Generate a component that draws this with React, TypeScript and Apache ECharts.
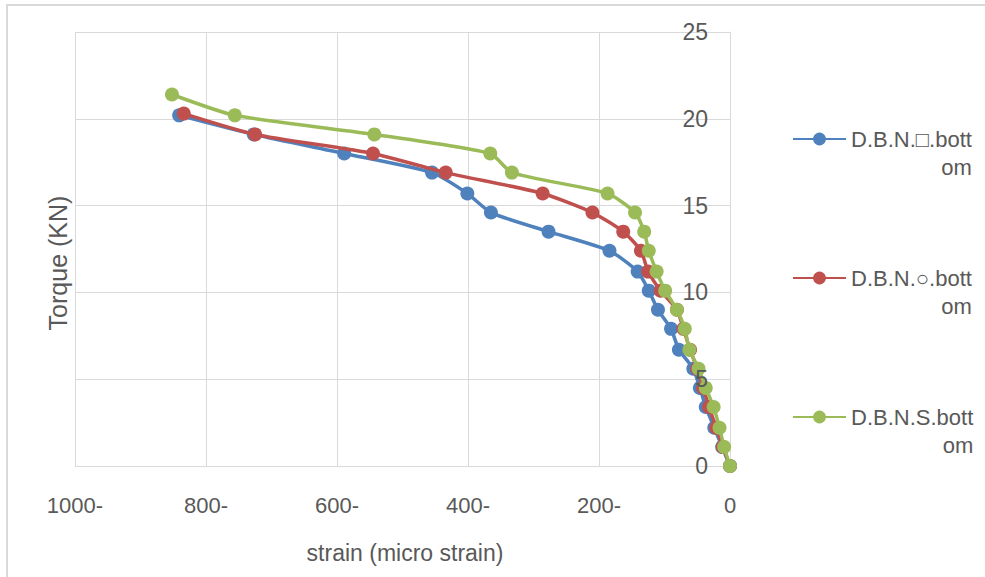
import React, { useEffect, useRef } from 'react';
import * as echarts from 'echarts';

const seriesNames = ['D.B.N.□.bottom', 'D.B.N.○.bottom', 'D.B.N.S.bottom'];
const seriesColors = ['#4f81bd', '#c0504d', '#9bbb59'];

const torqueBlue = [0, 1.1, 2.2, 3.4, 4.5, 5.6, 6.7, 7.9, 9.0, 10.1, 11.2, 12.4, 13.5, 14.6, 15.7, 16.9, 18.0, 19.1, 20.2];
const strainBlue = [0, 12, 24, 37, 46, 56, 78, 90, 110, 124, 141, 184, 277, 365, 401, 455, 589, 727, 841];

const torqueRed = [0, 1.1, 2.2, 3.4, 4.5, 5.6, 6.7, 7.9, 9.0, 10.1, 11.2, 12.4, 13.5, 14.6, 15.7, 16.9, 18.0, 19.1, 20.3];
const strainRed = [0, 11, 21, 32, 41, 50, 61, 71, 81, 106, 125, 136, 163, 210, 286, 434, 545, 725, 834];

const torqueGreen = [0, 1.1, 2.2, 3.4, 4.5, 5.6, 6.7, 7.9, 9.0, 10.1, 11.2, 12.4, 13.5, 14.6, 15.7, 16.9, 18.0, 19.1, 20.2, 21.4];
const strainGreen = [0, 9, 16, 25, 37, 48, 62, 69, 81, 99, 112, 124, 131, 145, 187, 333, 366, 543, 756, 852];

const xTitle = 'strain (micro strain)';
const yTitle = 'Torque (KN)';

const FONT = '"Liberation Sans", Arial, sans-serif';
const TEXT = '#595959';
const GRID = '#d9d9d9';

function pairs(xs: number[], ys: number[]) {
  return xs.map((x, i) => [x, ys[i]]);
}

export default function App() {
  const ref = useRef<HTMLDivElement>(null);
  useEffect(() => {
    if (!ref.current) return;
    const chart = echarts.init(ref.current, null, { renderer: 'svg' });
    const allData = [
      pairs(strainBlue, torqueBlue),
      pairs(strainRed, torqueRed),
      pairs(strainGreen, torqueGreen),
    ];
    const yBase = { type: 'value', position: 'right', min: 0, max: 25, interval: 5 };
    chart.setOption({
      animation: false,
      backgroundColor: '#ffffff',
      textStyle: { fontFamily: FONT },
      grid: { left: 75, right: 255, top: 32, bottom: 111, containLabel: false },
      xAxis: {
        type: 'value',
        inverse: true,
        min: 0,
        max: 1000,
        interval: 200,
        axisLine: { show: true, lineStyle: { color: GRID, width: 1 } },
        axisTick: { show: false },
        splitLine: { show: true, lineStyle: { color: GRID, width: 1 } },
        axisLabel: {
          color: TEXT,
          fontSize: 22,
          fontFamily: FONT,
          margin: 28,
          formatter: (v: number) => (v === 0 ? '0' : v + '-'),
        },
      },
      yAxis: [
        {
          ...yBase,
          z: 0,
          axisLine: { show: true, lineStyle: { color: GRID, width: 1 } },
          axisTick: { show: false },
          splitLine: { show: true, lineStyle: { color: GRID, width: 1 } },
          axisLabel: { show: false },
        },
        {
          ...yBase,
          z: 10,
          axisLine: { show: false },
          axisTick: { show: false },
          splitLine: { show: false },
          axisLabel: {
            inside: true,
            color: TEXT,
            fontSize: 23,
            fontFamily: FONT,
            margin: 22,
          },
        },
      ],
      legend: {
        orient: 'vertical',
        left: 787,
        top: 95,
        itemWidth: 53,
        itemHeight: 16,
        itemGap: 61,
        data: seriesNames,
        formatter: (name: string) => `{e| }\n{a|${name.slice(0, -2)}}\n{b|${name.slice(-2)}}`,
        textStyle: {
          color: TEXT,
          fontFamily: FONT,
          fontSize: 22,
          rich: {
            e: { fontSize: 22, lineHeight: 28, fontFamily: FONT },
            a: { fontSize: 22, lineHeight: 28, color: TEXT, fontFamily: FONT },
            b: { fontSize: 22, lineHeight: 28, color: TEXT, fontFamily: FONT, align: 'right' },
          },
        },
      },
      series: seriesNames.map((name, i) => ({
        name,
        type: 'line',
        yAxisIndex: 0,
        data: allData[i],
        smooth: 0.2,
        symbol: 'circle',
        symbolSize: 14,
        showSymbol: true,
        lineStyle: { color: seriesColors[i], width: 3.5 },
        itemStyle: { color: seriesColors[i] },
        z: 2 + i,
      })),
      graphic: [
        {
          type: 'rect',
          shape: { x: 7, y: 5, width: 1000, height: 600 },
          style: { fill: 'none', stroke: GRID, lineWidth: 2 },
          silent: true,
        },
        {
          type: 'text',
          x: 405,
          y: 553,
          style: {
            text: xTitle,
            fill: TEXT,
            fontSize: 23,
            fontFamily: FONT,
            align: 'center',
            verticalAlign: 'middle',
          },
        },
        {
          type: 'text',
          x: 58,
          y: 263,
          rotation: Math.PI / 2,
          style: {
            text: yTitle,
            fill: TEXT,
            fontSize: 25,
            fontFamily: FONT,
            align: 'center',
            verticalAlign: 'middle',
          },
        },
      ],
    });
    return () => chart.dispose();
  }, []);
  return (
    <div
      ref={ref}
      style={{ position: 'fixed', left: 0, top: 0, width: 985, height: 577 }}
    />
  );
}
